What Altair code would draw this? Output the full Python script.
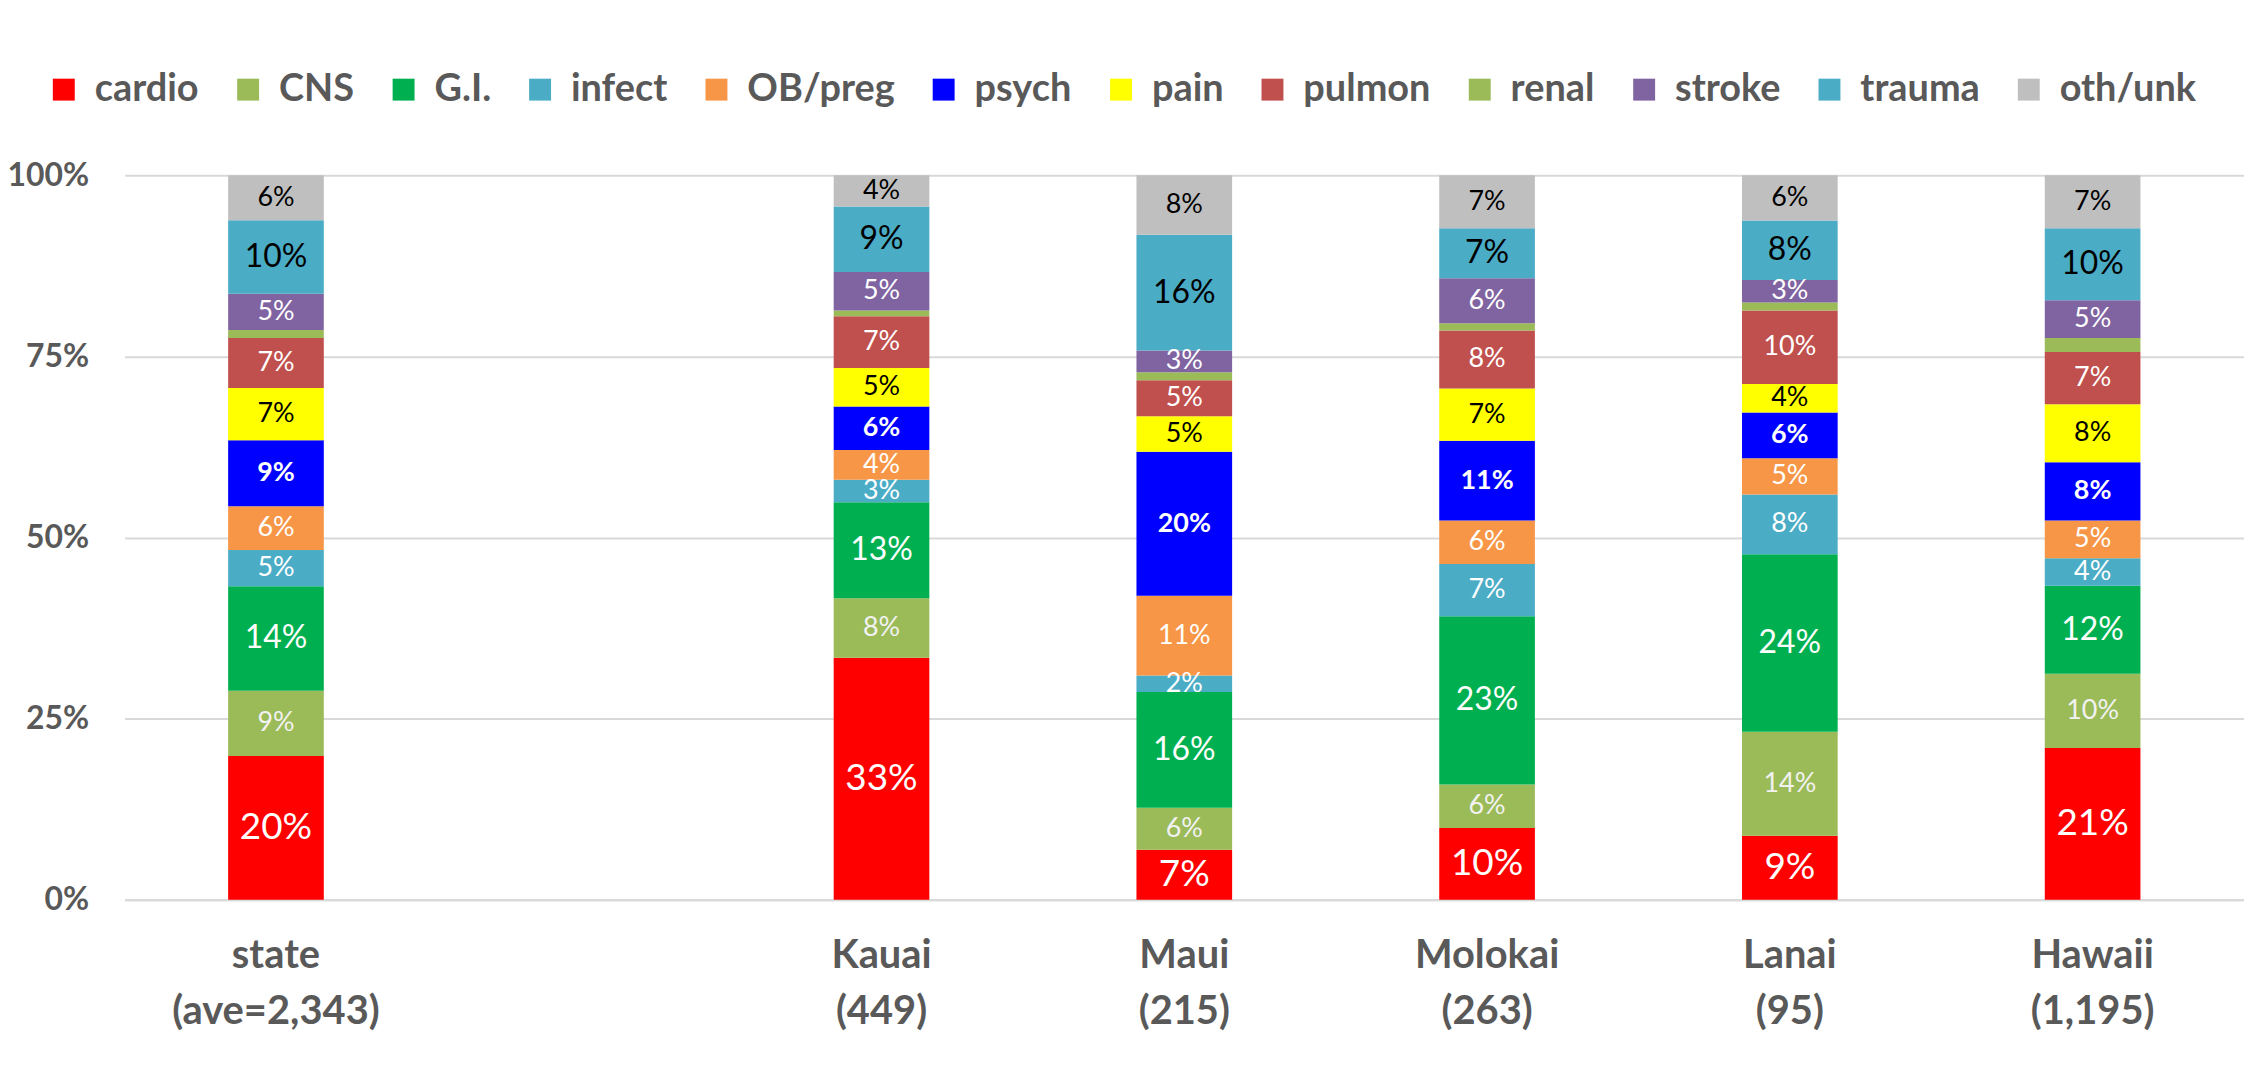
import altair as alt
import pandas as pd

# ---- data -------------------------------------------------------------
categories = ["cardio", "CNS", "G.I.", "infect", "OB/preg", "psych",
              "pain", "pulmon", "renal", "stroke", "trauma", "oth/unk"]

groups = ["state", " ", "Kauai", "Maui", "Molokai", "Lanai", "Hawaii"]
counts = ["(ave=2,343)", "", "(449)", "(215)", "(263)", "(95)", "(1,195)"]

# percent of calls by category (bottom -> top), per group
state   = [19.8, 9.0, 14.4, 5.0, 6.0, 9.1, 7.2, 6.9, 1.1, 5.0, 10.1, 6.2]
kauai   = [33.3, 8.2, 13.2, 3.1, 4.1, 6.0, 5.3, 7.1, 0.8, 5.3, 9.0, 4.3]
maui    = [6.9, 5.8, 16.0, 2.3, 11.0, 19.9, 4.9, 5.0, 1.1, 3.0, 16.0, 8.2]
molokai = [9.9, 6.0, 23.2, 7.2, 6.0, 11.0, 7.2, 8.0, 1.0, 6.2, 6.9, 7.3]
lanai   = [8.8, 14.3, 24.4, 8.2, 5.0, 6.3, 3.9, 10.1, 1.1, 3.1, 8.2, 6.2]
hawaii  = [20.9, 10.2, 12.1, 3.8, 5.2, 8.0, 8.0, 7.2, 1.9, 5.2, 9.9, 7.3]

series = {"state": state, "Kauai": kauai, "Maui": maui,
          "Molokai": molokai, "Lanai": lanai, "Hawaii": hawaii}

# ---- styles -----------------------------------------------------------
colors = ["#FF0000", "#9BBB59", "#00B050", "#4BACC6", "#F79646", "#0000FF",
          "#FFFF00", "#C0504D", "#9BBB59", "#8064A2", "#4BACC6", "#BFBFBF"]
label_colors = {"cardio": "white", "CNS": "#F2F2F2", "G.I.": "white",
                "infect": "white", "OB/preg": "white", "psych": "white",
                "pain": "black", "pulmon": "white", "renal": "white",
                "stroke": "white", "trauma": "black", "oth/unk": "black"}
label_sizes = {"cardio": 37, "G.I.": 32, "trauma": 32}
DEFAULT_LABEL = 27

slot_keys = [g + "\n" + c if c else g for g, c in zip(groups, counts)]
key_of = dict(zip(groups, slot_keys))

rows = []
for g, vals in series.items():
    for i, (cat, v) in enumerate(zip(categories, vals)):
        rows.append({"slot": key_of[g], "cat": cat, "idx": i, "v": v,
                     "frac": v / 100.0,
                     "tc": label_colors[cat],
                     "fs": label_sizes.get(cat, DEFAULT_LABEL)})
df = pd.DataFrame(rows)

GRID = "#D9D9D9"
TXT = "#595959"

x_enc = alt.X("slot:N", sort=slot_keys,
              scale=alt.Scale(domain=slot_keys, paddingInner=0, paddingOuter=0),
              axis=alt.Axis(title=None, labelAngle=0, ticks=False,
                            domainColor=GRID, domainWidth=2,
                            labelFont="Lato", labelFontWeight="bold",
                            labelFontSize=40, labelColor=TXT,
                            labelBaseline="top", labelPadding=36,
                            labelLineHeight=56, labelLimit=0,
                            labelExpr="split(datum.value, '\\n')"))

base = alt.Chart(df).transform_stack(
    stack="v", groupby=["slot"],
    sort=[alt.SortField("idx", order="ascending")],
    offset="normalize", as_=["y0", "y1"]
).transform_calculate(mid="(datum.y0 + datum.y1) / 2")

y_scale = alt.Scale(domain=[0, 1], nice=False)

bars = base.mark_bar(size=96).encode(
    x=x_enc,
    y=alt.Y("y0:Q", scale=y_scale,
            axis=alt.Axis(title=None, values=[0, 0.25, 0.5, 0.75, 1],
                          format=".0%", grid=True, gridColor=GRID,
                          gridWidth=2, domain=False, ticks=False,
                          labelFont="Lato", labelFontWeight="bold",
                          labelFontSize=32, labelColor=TXT,
                          labelPadding=36)),
    y2="y1:Q",
    color=alt.Color("cat:N",
                    scale=alt.Scale(domain=categories, range=colors),
                    sort=categories,
                    legend=alt.Legend(title=None, orient="none",
                                      direction="horizontal", columns=12,
                                      legendX=-80, legendY=-105,
                                      symbolType="square", symbolSize=484,
                                      symbolStrokeWidth=0, symbolOpacity=1,
                                      labelFont="Lato", labelFontWeight="bold",
                                      labelFontSize=38, labelColor=TXT,
                                      labelOffset=12, columnPadding=30,
                                      labelLimit=0)),
    order=alt.Order("idx:Q"),
)

labels = base.transform_filter(
    "datum.cat != 'renal' && datum.cat != 'psych'"
).mark_text(font="Lato", align="center", baseline="middle").encode(
    x=alt.X("slot:N", sort=slot_keys),
    y=alt.Y("mid:Q", scale=y_scale),
    text=alt.Text("frac:Q", format=".0%"),
    color=alt.Color("tc:N", scale=None),
    size=alt.Size("fs:Q", scale=None),
)

psych_labels = base.transform_filter(
    "datum.cat == 'psych'"
).mark_text(font="Lato", fontWeight="bold", align="center",
            baseline="middle").encode(
    x=alt.X("slot:N", sort=slot_keys),
    y=alt.Y("mid:Q", scale=y_scale),
    text=alt.Text("frac:Q", format=".0%"),
    color=alt.Color("tc:N", scale=None),
    size=alt.Size("fs:Q", scale=None),
)

chart = alt.layer(bars, labels, psych_labels).properties(
    width=2127, height=727,
    autosize=alt.AutoSizeParams(type="none"),
    padding={"left": 117, "top": 166, "right": 0, "bottom": 186},
    background="white",
).configure_view(stroke=None)

chart.save("out.html", embed_options={"renderer": "svg", "actions": False})
